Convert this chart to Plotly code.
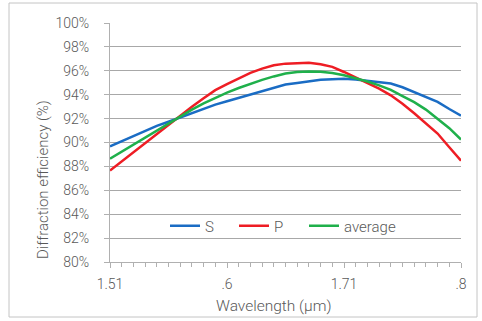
import plotly.graph_objects as go

wavelength = [round(1.51 + 0.01 * i, 2) for i in range(31)]
s_pol = [89.67, 90.11, 90.55, 91.0, 91.39, 91.74, 92.1, 92.5, 92.85, 93.17,
         93.45, 93.73, 94.03, 94.3, 94.55, 94.85, 94.98, 95.1, 95.25, 95.3,
         95.33, 95.28, 95.18, 95.07, 94.93, 94.62, 94.23, 93.82, 93.4, 92.8, 92.25]
p_pol = [87.66, 88.43, 89.19, 89.96, 90.73, 91.49, 92.25, 93.0, 93.7, 94.38,
         94.88, 95.35, 95.82, 96.18, 96.47, 96.6, 96.67, 96.68, 96.55, 96.33,
         95.9, 95.45, 95.0, 94.5, 93.95, 93.25, 92.45, 91.64, 90.75, 89.6, 88.47]
average = [88.64, 89.23, 89.82, 90.41, 91.0, 91.6, 92.17, 92.75, 93.27, 93.76,
           94.18, 94.56, 94.92, 95.24, 95.53, 95.78, 95.9, 95.95, 95.92, 95.82,
           95.62, 95.38, 95.1, 94.78, 94.4, 93.88, 93.38, 92.75, 92.0, 91.2, 90.25]

x_tickvals = [1.51, 1.61, 1.71, 1.81]
x_ticktext = ["1.51", ".6", "1.71", ".8"]
y_tickvals = list(range(80, 101, 2))

font_family = "Roboto"
text_color = "#595959"

# plot area in pixels: x 110..461, y 23..262
PL, PR, PT, PB = 110, 461, 23, 262
def px_x(v):
    return (v - PL) / (PR - PL)
def px_y(v):
    return (PB - v) / (PB - PT)

series = [("S", s_pol, "#1a6cc4", "legend", 170),
          ("P", p_pol, "#ee1d24", "legend2", 239),
          ("average", average, "#1fb04b", "legend3", 309)]

fig = go.Figure()
legend_layouts = {}
for name, ys, color, leg, lx in series:
    fig.add_trace(go.Scatter(x=wavelength, y=ys, mode="lines", name=name, legend=leg,
                             line=dict(color=color, width=2.5)))
    legend_layouts[leg] = dict(orientation="h", x=px_x(lx - 5), y=px_y(226),
                               xanchor="left", yanchor="middle",
                               font=dict(size=15, color=text_color, family=font_family, weight=300),
                               bgcolor="rgba(255,255,255,0)", itemwidth=30)

fig.update_layout(
    width=482, height=321,
    margin=dict(l=PL, r=482 - PR, t=PT, b=321 - PB),
    paper_bgcolor="white", plot_bgcolor="white",
    font=dict(family=font_family, size=14, color=text_color, weight=300),
    showlegend=True,
    **legend_layouts,
    xaxis=dict(range=[1.51, 1.81], tickmode="array", tickvals=x_tickvals, ticktext=x_ticktext,
               showgrid=False, showline=True, linecolor="#b0b0b0", linewidth=1,
               ticks="outside", ticklen=5, tickcolor="#b0b0b0",
               minor=dict(ticks="outside", ticklen=4, dtick=0.01, tick0=1.51, tickcolor="#b0b0b0", showgrid=False),
               tickfont=dict(size=14), ticklabelstandoff=4,
               zeroline=False),
    yaxis=dict(range=[80, 100], tickmode="array", tickvals=y_tickvals,
               ticktext=[f"{v}%" for v in y_tickvals],
               showgrid=True, gridcolor="#a8a8a8", gridwidth=1,
               showline=True, linecolor="#b0b0b0", linewidth=1,
               ticks="outside", ticklen=5, tickcolor="#b0b0b0",
               tickfont=dict(size=14), ticklabelstandoff=12,
               zeroline=False),
)

fig.add_annotation(text="Diffraction efficiency (%)", xref="paper", yref="paper",
                   x=px_x(43), y=px_y(180), xanchor="center", yanchor="middle",
                   textangle=-90, showarrow=False,
                   font=dict(size=15, color=text_color, family=font_family, weight=300))
fig.add_annotation(text="Wavelength (µm)", xref="paper", yref="paper",
                   x=px_x(273.5), y=px_y(306), xanchor="center", yanchor="middle",
                   showarrow=False,
                   font=dict(size=15.5, color=text_color, family=font_family, weight=300))

fig.add_shape(type="rect", xref="paper", yref="paper",
              x0=px_x(9), x1=px_x(477), y0=px_y(317), y1=px_y(3),
              line=dict(color="#c4c4c4", width=1), fillcolor="rgba(0,0,0,0)", layer="below")

fig.write_html("out.html")
